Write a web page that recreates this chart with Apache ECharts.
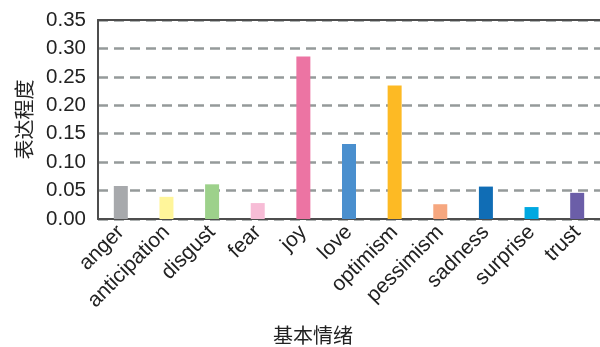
<!DOCTYPE html>
<html>
<head>
<meta charset="utf-8">
<script src="https://cdn.jsdelivr.net/npm/echarts@6/dist/echarts.min.js"></script>
<style>
html,body{margin:0;padding:0;background:#fff;}
#main{width:600px;height:347px;}
</style>
</head>
<body>
<div id="main"></div>
<script>
var emotions = ['anger','anticipation','disgust','fear','joy','love','optimism','pessimism','sadness','surprise','trust'];
var values = [0.058,0.039,0.061,0.028,0.286,0.132,0.235,0.026,0.057,0.021,0.046];
var barColors = ['#a7a9ac','#fff59a','#9dd18b','#f7bcd6','#ec74a3','#4a8fce','#fdba24','#f6a77f','#106db5','#00a8e1','#6b5ea8'];
var yTicks = [0,0.05,0.10,0.15,0.20,0.25,0.30,0.35];

var font = '"Liberation Sans", Arial, sans-serif';
var cjk = '"Noto Sans CJK SC", sans-serif';

var myChart = echarts.init(document.getElementById('main'));
var option = {
    animation: false,
    title: {
        text: '基本情绪',
        left: 268,
        top: 320,
        textStyle: {fontFamily: cjk, fontSize: 20, fontWeight: 'normal', color: '#222'}
    },
    grid: {left: 98, top: 20, right: -6, bottom: 128},
    xAxis: [{
        type: 'category',
        data: emotions,
        axisLine: {lineStyle: {color: '#4d4d4d', width: 2}},
        axisTick: {show: false},
        axisLabel: {
            interval: 0,
            rotate: 45,
            fontFamily: font,
            fontSize: 21,
            color: '#222',
            margin: 10
        }
    }, {
        type: 'category',
        position: 'top',
        data: emotions,
        axisLine: {lineStyle: {color: '#4d4d4d', width: 2}},
        axisTick: {show: false},
        axisLabel: {show: false}
    }],
    yAxis: {
        type: 'value',
        min: 0,
        max: 0.35,
        interval: 0.05,
        name: '表达程度',
        nameLocation: 'middle',
        nameGap: 64,
        nameRotate: 90,
        nameTextStyle: {fontFamily: cjk, fontSize: 20, color: '#222'},
        axisLine: {show: true, lineStyle: {color: '#4d4d4d', width: 2}},
        axisTick: {show: false},
        axisLabel: {
            fontFamily: font,
            fontSize: 20.5,
            color: '#222',
            margin: 12,
            formatter: function (v) { return v.toFixed(2); }
        },
        splitLine: {lineStyle: {color: '#959a9a', width: 2.5, type: [10, 6]}}
    },
    series: [{
        type: 'bar',
        barWidth: 14,
        data: values.map(function (v, i) {
            return {value: v, itemStyle: {color: barColors[i]}};
        })
    }]
};
myChart.setOption(option);
</script>
</body>
</html>
